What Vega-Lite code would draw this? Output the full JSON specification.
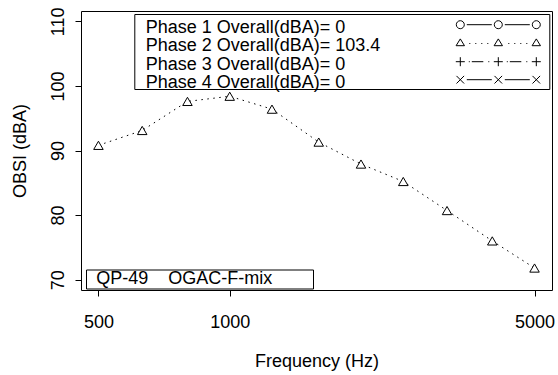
{
  "$schema": "https://vega.github.io/schema/vega-lite/v6.json",
  "width": 471,
  "height": 279,
  "autosize": {"type": "none"},
  "padding": {"left": 81, "top": 11, "right": 6, "bottom": 85},
  "background": "white",
  "config": {
    "font": "Liberation Sans",
    "view": {"stroke": "black", "strokeWidth": 1},
    "axis": {
      "domain": false,
      "grid": false,
      "ticks": true,
      "tickColor": "black",
      "tickSize": 6,
      "labelColor": "black",
      "titleColor": "black",
      "labelFontSize": 18,
      "titleFontSize": 18,
      "titleFontWeight": "normal",
      "labelFont": "Liberation Sans",
      "titleFont": "Liberation Sans"
    },
    "legend": {
      "labelFont": "Liberation Sans",
      "labelFontSize": 18,
      "labelColor": "black",
      "labelLimit": 500
    }
  },
  "data": {
    "values": [
      {"freq": 500, "dBA": 90.8, "phase": "Phase 2 Overall(dBA)= 103.4"},
      {"freq": 630, "dBA": 93.1, "phase": "Phase 2 Overall(dBA)= 103.4"},
      {"freq": 800, "dBA": 97.6, "phase": "Phase 2 Overall(dBA)= 103.4"},
      {"freq": 1000, "dBA": 98.4, "phase": "Phase 2 Overall(dBA)= 103.4"},
      {"freq": 1250, "dBA": 96.4, "phase": "Phase 2 Overall(dBA)= 103.4"},
      {"freq": 1600, "dBA": 91.3, "phase": "Phase 2 Overall(dBA)= 103.4"},
      {"freq": 2000, "dBA": 87.9, "phase": "Phase 2 Overall(dBA)= 103.4"},
      {"freq": 2500, "dBA": 85.2, "phase": "Phase 2 Overall(dBA)= 103.4"},
      {"freq": 3150, "dBA": 80.7, "phase": "Phase 2 Overall(dBA)= 103.4"},
      {"freq": 4000, "dBA": 76.0, "phase": "Phase 2 Overall(dBA)= 103.4"},
      {"freq": 5000, "dBA": 71.8, "phase": "Phase 2 Overall(dBA)= 103.4"}
    ]
  },
  "encoding": {
    "x": {
      "field": "freq",
      "type": "quantitative",
      "scale": {"type": "log", "domain": [456, 5483], "nice": false},
      "axis": {"values": [500, 1000, 5000], "format": "d", "title": "Frequency (Hz)", "labelPadding": 17, "titlePadding": 21, "labelFlush": false}
    },
    "y": {
      "field": "dBA",
      "type": "quantitative",
      "scale": {"domain": [68.4, 111.6], "nice": false, "zero": false},
      "axis": {"values": [70, 80, 90, 100, 110], "title": "OBSI (dBA)", "labelAngle": -90, "labelAlign": "center", "labelBaseline": "bottom", "labelPadding": 8, "titlePadding": 20, "labelFlush": false}
    }
  },
  "layer": [
    {
      "mark": {"type": "line", "color": "black", "strokeWidth": 1},
      "encoding": {
        "strokeDash": {
          "datum": "QP-49\u00a0\u00a0\u00a0\u00a0OGAC-F-mix",
          "type": "nominal",
          "scale": {"range": [[1.5, 4.5]]},
          "legend": {
            "orient": "none",
            "legendX": 5,
            "legendY": 258.5,
            "title": null,
            "strokeColor": "black",
            "fillColor": "white",
            "padding": 0.5,
            "symbolOpacity": 0,
            "symbolSize": 1,
            "symbolOffset": 216,
            "labelOffset": -224.3
          }
        }
      }
    },
    {
      "mark": {"type": "point", "shape": "triangle-up", "filled": true, "fill": "white", "stroke": "black", "strokeWidth": 1, "size": 90, "opacity": 1}
    },
    {
      "transform": [{"filter": "datum.freq < 0"}],
      "mark": {"type": "point", "filled": false, "color": "black", "strokeWidth": 1, "opacity": 1},
      "encoding": {
        "shape": {
          "field": "phase",
          "type": "nominal",
          "scale": {
            "domain": ["Phase 1 Overall(dBA)= 0", "Phase 2 Overall(dBA)= 103.4", "Phase 3 Overall(dBA)= 0", "Phase 4 Overall(dBA)= 0"],
            "range": [
              "M-34,-3A4,4 0 1,1 -42,-3A4,4 0 1,1 -34,-3Z M4,-3A4,4 0 1,1 -4,-3A4,4 0 1,1 4,-3Z M42,-3A4,4 0 1,1 34,-3A4,4 0 1,1 42,-3Z M-31.5,-3L-6.5,-3M6.5,-3L31.5,-3M52,-3L52,-3",
              "M-38,-6.8L-33.8,0L-42.2,0Z M0,-6.8L4.2,0L-4.2,0Z M38,-6.8L42.2,0L33.8,0Z M-29,-2.2L-28,-2.2M-23,-2.2L-22,-2.2M-17,-2.2L-16,-2.2M-11,-2.2L-10,-2.2M10,-2.2L11,-2.2M16,-2.2L17,-2.2M22,-2.2L23,-2.2M28,-2.2L29,-2.2",
              "M-42.5,-3L-33.5,-3M-38,-7.5L-38,1.5M-4.5,-3L4.5,-3M0,-7.5L0,1.5M33.5,-3L42.5,-3M38,-7.5L38,1.5M-29.5,-3L-28.5,-3M-26.5,-3L-15,-3M-10,-3L-9,-3M8.5,-3L9.5,-3M11.5,-3L23,-3M28,-3L29,-3",
              "M-41.8,-6.8L-34.2,0.8M-34.2,-6.8L-41.8,0.8M-3.8,-6.8L3.8,0.8M3.8,-6.8L-3.8,0.8M34.2,-6.8L41.8,0.8M41.8,-6.8L34.2,0.8M-31.5,-3L-6.5,-3M6.5,-3L31.5,-3"
            ]
          },
          "legend": {
            "orient": "none",
            "legendX": 53.3,
            "legendY": 3,
            "title": "\u00a0",
            "titleFontSize": 1,
            "titlePadding": 7,
            "strokeColor": "black",
            "fillColor": "white",
            "padding": -3.3,
            "rowPadding": 0,
            "symbolSize": 4,
            "symbolStrokeWidth": 1,
            "symbolStrokeColor": "black",
            "symbolOffset": 358.3,
            "labelOffset": -361.6
          }
        }
      }
    }
  ]
}
